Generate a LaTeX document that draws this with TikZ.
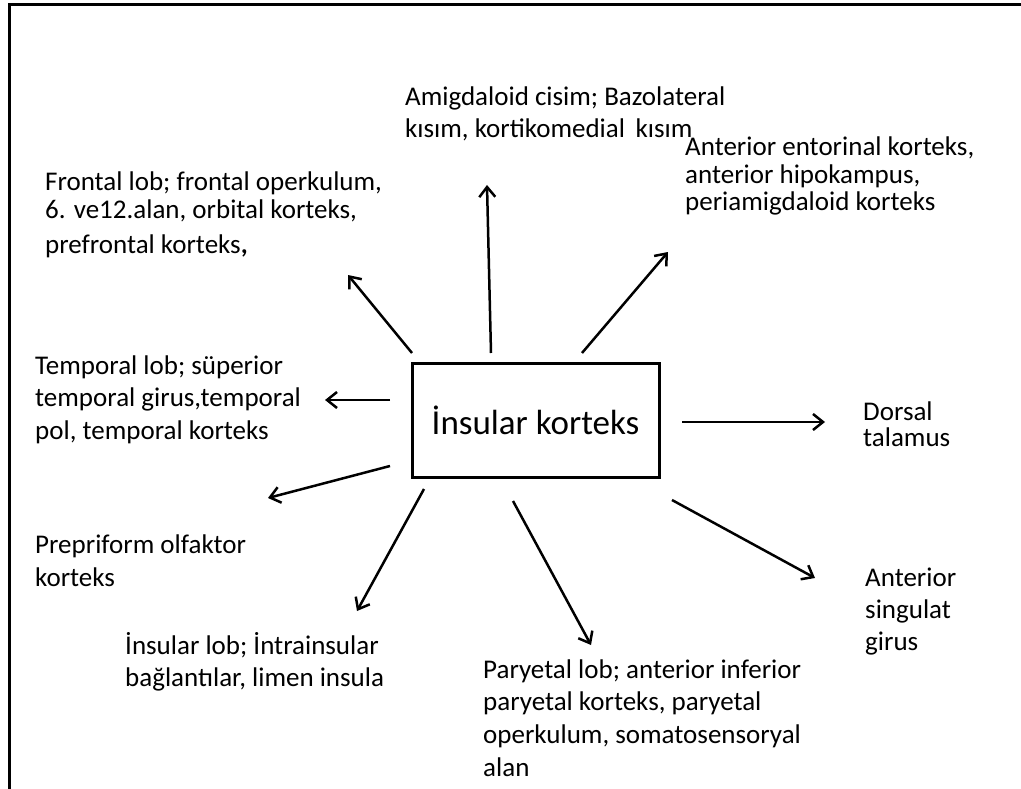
\documentclass[tikz,border=0pt]{standalone}
\usepackage{fontspec}
\setmainfont{Carlito}
\usetikzlibrary{arrows.meta}
\newcommand\lbltab[1]{\begin{tabular}[t]{@{}l@{}}#1\end{tabular}}
\begin{document}
\begin{tikzpicture}[x=1pt,y=-1pt,
  lbl/.style={anchor=base west, inner sep=0pt},
  arr/.style={line width=2.5pt, -{Straight Barb[length=10pt,width=16pt,line width=2.5pt]}},
  mainbox/.style={draw, line width=3pt, minimum width=247pt, minimum height=114pt, inner sep=0pt, font=\fontsize{35}{42}\selectfont}]
\useasboundingbox (0,0) rectangle (1021,789);
\fill[white] (0,0) rectangle (1021,789);
% frame
\coordinate (fbl) at (9.5,789);
\coordinate (ftl) at (9.5,4.5);
\coordinate (ftr) at (1021,4.5);
\draw[line width=3pt] (fbl) -- (ftl) -- (ftr);
% central box
\node[mainbox] (ins) at (535.5,420) {İnsular korteks};
% labels
\node[lbl, font=\fontsize{27}{28}\selectfont] (frontal) at (45,191)
  {\lbltab{Frontal lob; frontal operkulum,\\ 6. ve12.alan, orbital korteks,\\[7pt] prefrontal korteks{\bfseries,}}};
\node[lbl, font=\fontsize{27}{32}\selectfont] (amig) at (405,106)
  {\lbltab{Amigdaloid cisim; Bazolateral\\ kısım, kortikomedial\ \,kısım}};
\node[lbl, font=\fontsize{27}{27.5}\selectfont] (ento) at (685,156)
  {\lbltab{Anterior entorinal korteks,\\ anterior hipokampus,\\ periamigdaloid korteks}};
\node[lbl, font=\fontsize{27}{32.5}\selectfont] (temp) at (35,374)
  {\lbltab{Temporal lob; süperior\\ temporal girus,temporal\\ pol, temporal korteks}};
\node[lbl, font=\fontsize{27}{26}\selectfont] (dorsal) at (863,420)
  {\lbltab{Dorsal\\ talamus}};
\node[lbl, font=\fontsize{27}{33}\selectfont] (prepri) at (35,553)
  {\lbltab{Prepriform olfaktor\\ korteks}};
\node[lbl, font=\fontsize{27}{32}\selectfont] (sing) at (865,586)
  {\lbltab{Anterior\\ singulat\\ girus}};
\node[lbl, font=\fontsize{27}{32}\selectfont] (inslob) at (125,654)
  {\lbltab{İnsular lob; İntrainsular\\ bağlantılar, limen insula}};
\node[lbl, font=\fontsize{27}{32.7}\selectfont] (pary) at (483,678)
  {\lbltab{Paryetal lob; anterior inferior\\ paryetal korteks, paryetal\\ operkulum, somatosensoryal\\ alan}};
% arrow end points
\coordinate (sF) at (412,353); \coordinate (tF) at (348,275);
\coordinate (sA) at (491,353); \coordinate (tA) at (487,185);
\coordinate (sE) at (582,353); \coordinate (tE) at (668,252);
\coordinate (sT) at (390,400); \coordinate (tT) at (325,400);
\coordinate (sD) at (682,422); \coordinate (tD) at (825,422);
\coordinate (sP) at (390,466); \coordinate (tP) at (268,498);
\coordinate (sI) at (424,489); \coordinate (tI) at (357,611);
\coordinate (sY) at (513,501); \coordinate (tY) at (591,645);
\coordinate (sS) at (672,500); \coordinate (tS) at (815,578);
\foreach \a in {F,A,E,T,D,P,I,Y,S} \draw[arr] (s\a) -- (t\a);
\end{tikzpicture}
\end{document}
